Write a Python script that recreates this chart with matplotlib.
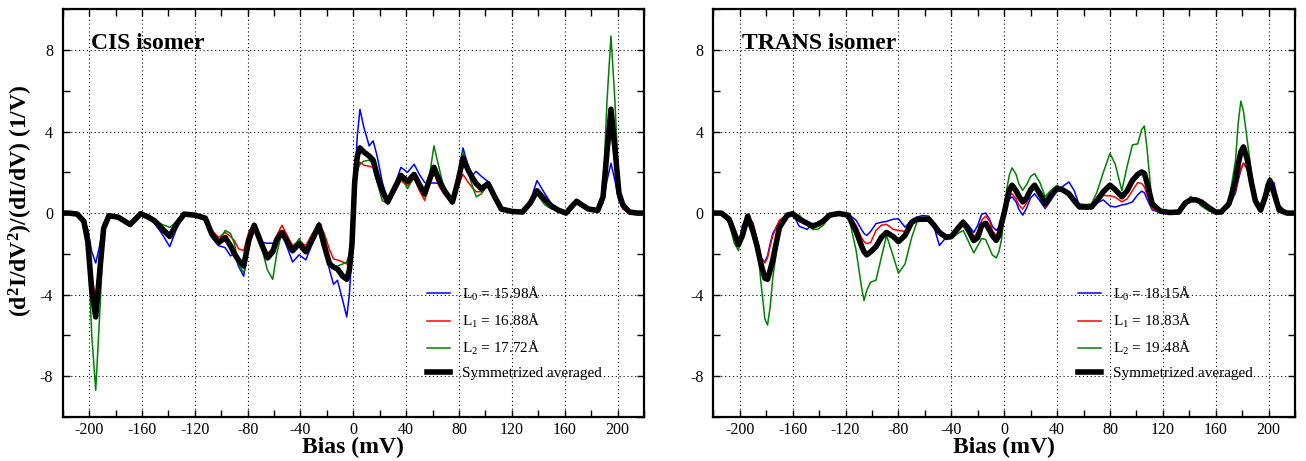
import matplotlib as mpl
mpl.use('Agg')
from matplotlib import pyplot as plt
from matplotlib.ticker import MultipleLocator

plt.rcParams['font.family'] = 'serif'
plt.rcParams['font.serif'] = ['Liberation Serif', 'DejaVu Serif']
plt.rcParams['mathtext.default'] = 'regular'
plt.rcParams['axes.unicode_minus'] = False

# dpi for figure
my_dpi = 100

# ---------------------------------------------------------------------------
# CIS isomer: bias (mV) and (d2I/dV2)/(dI/dV) (1/V)
# ---------------------------------------------------------------------------
cis_bias = [-220, -215, -209, -204, -201, -198, -195, -192, -189, -185,
            -178, -173, -169, -165, -161, -155, -150, -145, -139, -134,
            -128, -120, -112, -107, -102, -97, -93, -90, -87, -83,
            -79, -75, -69, -65, -61, -58, -54, -50, -46, -41,
            -36, -31, -26, -22, -18, -15, -12, -8, -5, -3, -1,
            0,
            1, 3, 5, 8, 12, 15, 18, 22, 26, 31,
            36, 41, 46, 50, 54, 58, 61, 65, 69, 75,
            79, 83, 87, 90, 93, 97, 102, 107, 112, 120,
            128, 134, 139, 145, 150, 155, 161, 165, 169, 173,
            178, 185, 189, 192, 195, 198, 201, 204, 209, 215, 220]

cis_L0 = [0, 0, -0.05, -0.3, -0.8, -1.9, -2.45, -1.6, -0.5, -0.13,
          -0.2, -0.4, -0.56, -0.3, -0.03, -0.25, -0.55, -1.0, -1.65, -0.8,
          -0.05, -0.1, -0.3, -1.2, -1.6, -1.7, -2.1, -2.0, -2.6, -3.1,
          -1.6, -0.7, -1.45, -1.48, -1.48, -1.45, -1.0, -1.7, -2.4, -2.05,
          -2.3, -1.5, -0.6, -1.5, -2.8, -3.5, -3.3, -4.3, -5.1, -4.0, -1.8,
          0,
          1.5, 3.8, 5.1, 4.2, 3.3, 3.55, 2.8, 1.5, 0.62, 1.3,
          2.25, 2.0, 2.4, 1.9, 1.5, 1.48, 1.48, 1.45, 1.1, 0.62,
          1.7, 3.2, 2.3, 1.85, 2.05, 1.8, 1.55, 0.8, 0.2, 0.08,
          0.05, 0.6, 1.6, 0.95, 0.45, 0.15, 0, 0.3, 0.58, 0.4,
          0.2, 0.13, 0.5, 1.6, 2.45, 1.6, 0.6, 0.35, 0.05, 0, 0]

cis_L1 = [0, 0, -0.05, -0.35, -1.0, -3.2, -4.1, -2.4, -0.6, -0.13,
          -0.2, -0.4, -0.56, -0.3, -0.03, -0.2, -0.35, -0.65, -1.0, -0.5,
          -0.05, -0.1, -0.25, -0.85, -1.2, -0.95, -1.15, -1.35, -1.75, -1.85,
          -0.9, -0.5, -1.4, -2.0, -1.7, -1.1, -0.6, -1.1, -1.6, -1.35,
          -1.6, -1.0, -0.5, -1.0, -1.8, -2.25, -2.3, -2.4, -2.5, -2.2, -1.3,
          0,
          1.3, 2.2, 2.5, 2.35, 2.3, 2.25, 1.6, 0.9, 0.43, 1.0,
          1.6, 1.35, 1.7, 1.1, 0.62, 1.5, 1.98, 1.3, 0.9, 0.43,
          1.3, 1.9, 1.5, 1.25, 1.05, 1.05, 1.35, 0.75, 0.2, 0.08,
          0.05, 0.45, 0.95, 0.55, 0.3, 0.15, 0, 0.3, 0.58, 0.4,
          0.2, 0.13, 0.8, 2.6, 4.0, 2.5, 0.7, 0.2, 0.0, 0, 0]

cis_L2 = [0, 0, -0.05, -0.5, -1.5, -6.0, -8.7, -5.0, -1.0, -0.13,
          -0.2, -0.4, -0.56, -0.3, -0.03, -0.2, -0.35, -0.55, -0.7, -0.45,
          -0.05, -0.1, -0.25, -0.95, -1.4, -0.85, -1.0, -1.5, -2.5, -2.95,
          -1.5, -0.55, -1.8, -2.8, -3.25, -2.0, -0.9, -1.2, -1.75, -1.25,
          -1.8, -1.1, -0.45, -1.1, -2.3, -2.6, -2.6, -2.5, -2.4, -2.0, -1.1,
          0,
          1.3, 2.1, 2.4, 2.55, 2.6, 2.4, 1.5, 0.6, 0.5, 1.1,
          1.78, 1.2, 1.78, 1.2, 0.8, 2.0, 3.3, 2.2, 1.1, 0.5,
          1.7, 3.0, 2.0, 1.35, 0.8, 0.95, 1.4, 0.75, 0.2, 0.08,
          0.05, 0.45, 0.9, 0.4, 0.2, 0.1, 0, 0.3, 0.58, 0.4,
          0.2, 0.13, 1.0, 5.5, 8.7, 5.5, 1.2, 0.5, 0.1, 0, 0]

cis_avg = [0, 0, -0.05, -0.4, -1.4, -3.8, -5.1, -2.9, -0.75, -0.13,
           -0.2, -0.4, -0.56, -0.3, -0.03, -0.2, -0.4, -0.75, -1.15, -0.55,
           -0.05, -0.1, -0.25, -1.05, -1.45, -1.2, -1.6, -2.0, -2.3, -2.6,
           -1.3, -0.6, -1.6, -2.2, -1.9, -1.3, -0.95, -1.4, -1.85, -1.5,
           -1.9, -1.3, -0.6, -1.6, -2.5, -2.65, -2.75, -3.1, -3.25, -2.8, -1.5,
           0,
           1.5, 2.8, 3.2, 3.0, 2.8, 2.6, 1.85, 1.1, 0.55, 1.2,
           1.85, 1.55, 1.9, 1.4, 0.95, 1.7, 2.25, 1.6, 1.1, 0.55,
           1.5, 2.7, 2.1, 1.75, 1.45, 1.2, 1.45, 0.8, 0.2, 0.08,
           0.05, 0.5, 1.1, 0.65, 0.35, 0.15, 0, 0.3, 0.58, 0.4,
           0.2, 0.13, 0.8, 3.0, 5.1, 3.2, 1.0, 0.4, 0.05, 0, 0]

# ---------------------------------------------------------------------------
# TRANS isomer
# ---------------------------------------------------------------------------
trans_bias = [-220, -214, -208, -204, -201, -198, -194, -190, -187, -184,
              -181, -179, -177, -175, -170, -164, -160, -155, -149, -145,
              -141, -137, -132, -125, -118, -112, -108, -106, -104, -101,
              -97, -93, -89, -84, -80, -75, -70, -66, -62, -57,
              -53, -49, -44, -40, -35, -31, -27, -23, -20, -17,
              -14, -11, -9, -6, -4, -2,
              0,
              2, 4, 6, 9, 11, 14, 17, 20, 23, 27,
              31, 35, 40, 44, 49, 53, 57, 62, 66, 70,
              75, 80, 84, 89, 93, 97, 101, 104, 106, 108,
              112, 118, 125, 132, 137, 141, 145, 149, 155, 160,
              164, 170, 175, 177, 179, 181, 184, 187, 190, 194,
              198, 201, 204, 208, 214, 220]

trans_L0 = [0, 0, -0.4, -1.3, -1.65, -0.6, -0.1, -0.5, -1.3, -2.2,
            -2.4, -2.1, -1.5, -1.0, -0.4, -0.05, -0.03, -0.65, -0.8, -0.5,
            -0.55, -0.35, -0.05, -0.02, -0.05, -0.35, -0.8, -1.0, -1.1, -0.9,
            -0.52, -0.45, -0.41, -0.3, -0.28, -0.69, -0.35, -0.2, -0.12, -0.15,
            -0.7, -1.59, -1.2, -1.1, -0.6, -0.35, -0.6, -0.95, -0.6, -0.05,
            0.0, -0.3, -0.65, -0.85, -0.7, -0.35,
            0,
            0.4, 0.7, 0.8, 0.55, 0.2, -0.1, 0.25, 0.75, 0.95, 0.6,
            0.22, 0.6, 1.1, 1.3, 1.53, 1.1, 0.35, 0.2, 0.25, 0.5,
            0.65, 0.35, 0.3, 0.4, 0.45, 0.55, 0.9, 1.08, 1.0, 0.7,
            0.15, 0.05, 0.03, 0.05, 0.4, 0.6, 0.7, 0.6, 0.2, 0.05,
            0.05, 0.3, 1.0, 1.6, 2.1, 2.45, 2.2, 1.3, 0.5, 0.05,
            0.6, 1.6, 1.5, 0.4, 0, 0]

trans_L1 = [0, 0, -0.35, -1.2, -1.55, -0.7, -0.1, -0.5, -1.3, -2.2,
            -2.45, -2.2, -1.6, -1.1, -0.35, -0.05, -0.03, -0.4, -0.6, -0.6,
            -0.55, -0.35, -0.05, -0.02, -0.05, -0.6, -1.2, -1.4, -1.5, -1.45,
            -0.85, -0.6, -0.55, -0.8, -0.85, -0.9, -0.35, -0.3, -0.25, -0.2,
            -0.6, -0.95, -1.2, -1.15, -0.7, -0.35, -0.75, -1.2, -0.9, -0.35,
            -0.15, -0.4, -0.85, -1.1, -0.9, -0.45,
            0,
            0.5, 0.85, 0.95, 0.7, 0.4, 0.2, 0.5, 1.0, 1.2, 0.8,
            0.3, 0.75, 1.15, 1.1, 0.95, 0.6, 0.25, 0.25, 0.3, 0.6,
            0.87, 0.85, 0.78, 0.55, 0.7, 1.1, 1.5, 1.45, 1.3, 0.9,
            0.2, 0.05, 0.03, 0.05, 0.45, 0.65, 0.65, 0.5, 0.2, 0.05,
            0.05, 0.35, 1.1, 1.7, 2.2, 2.45, 2.1, 1.2, 0.4, 0.05,
            0.7, 1.5, 1.2, 0.2, 0, 0]

trans_L2 = [0, 0, -0.5, -1.5, -1.84, -0.8, -0.11, -0.6, -1.3, -3.4,
            -5.2, -5.5, -4.6, -3.15, -0.9, -0.05, 0, -0.1, -0.5, -0.8,
            -0.8, -0.6, -0.2, -0.02, -0.05, -1.84, -3.6, -4.3, -3.8, -3.39,
            -3.3, -2.2, -1.1, -2.1, -2.95, -2.5, -1.2, -0.44, -0.38, -0.35,
            -0.65, -0.95, -1.3, -1.25, -1.0, -0.85, -1.4, -1.95, -1.6, -1.25,
            -1.3, -1.75, -2.05, -2.2, -1.9, -1.3,
            0,
            1.2, 1.9, 2.22, 1.9, 1.45, 1.12, 1.4, 1.8, 1.94, 1.5,
            0.8, 1.1, 1.37, 1.2, 0.8, 0.6, 0.45, 0.42, 0.45, 1.0,
            2.0, 2.93, 2.4, 1.1, 2.3, 3.35, 3.4, 4.1, 4.28, 3.2,
            0.4, 0.05, 0.03, 0.05, 0.5, 0.82, 0.65, 0.35, 0.1, 0.03,
            0.05, 0.6, 2.6, 4.4, 5.5, 5.0, 3.5, 2.0, 0.8, 0.1,
            1.4, 1.75, 0.9, 0.25, 0, 0]

trans_avg = [0, 0, -0.3, -1.0, -1.55, -1.1, -0.15, -0.9, -1.6, -2.5,
             -3.2, -3.25, -2.8, -2.3, -0.7, -0.1, -0.03, -0.3, -0.5, -0.65,
             -0.55, -0.4, -0.1, -0.02, -0.1, -0.9, -1.6, -1.9, -2.05, -1.9,
             -1.65, -1.2, -0.95, -1.15, -1.4, -1.1, -0.45, -0.3, -0.3, -0.3,
             -0.6, -0.95, -1.18, -1.15, -0.75, -0.45, -0.85, -1.35, -1.2, -0.6,
             -0.5, -0.85, -1.1, -1.34, -1.1, -0.5,
             0,
             0.6, 1.15, 1.37, 1.1, 0.85, 0.55, 0.75, 1.15, 1.37, 0.95,
             0.46, 0.85, 1.2, 1.15, 0.95, 0.6, 0.3, 0.3, 0.3, 0.6,
             1.05, 1.37, 1.15, 0.8, 1.1, 1.6, 1.9, 2.02, 1.95, 1.5,
             0.45, 0.1, 0.03, 0.05, 0.5, 0.65, 0.65, 0.55, 0.26, 0.05,
             0.05, 0.45, 1.6, 2.4, 3.0, 3.25, 2.6, 1.5, 0.6, 0.15,
             0.9, 1.6, 1.0, 0.15, 0, 0]

cis_labels = [r'L$_0$ = 15.98Å', r'L$_1$ = 16.88Å', r'L$_2$ = 17.72Å']
trans_labels = [r'L$_0$ = 18.15Å', r'L$_1$ = 18.83Å', r'L$_2$ = 19.48Å']
avg_label = 'Symmetrized averaged'

colo = ['blue', 'red', 'green']

fig = plt.figure(figsize=(1306/my_dpi, 461/my_dpi), dpi=my_dpi)
ax_cis = fig.add_axes([0.048, 0.0961, 0.4451, 0.8833])
ax_trans = fig.add_axes([0.5462, 0.0961, 0.4454, 0.8833])

panels = [(ax_cis, cis_bias, [cis_L0, cis_L1, cis_L2], cis_avg, cis_labels, 'CIS isomer'),
          (ax_trans, trans_bias, [trans_L0, trans_L1, trans_L2], trans_avg, trans_labels, 'TRANS isomer')]

for ax, bias, curves, avg, labels, title in panels:

  # individual electrode separations, then the averaged curve on top
  for i in range(3):
    ax.plot(bias, curves[i], color=colo[i], linewidth=1.1, label=labels[i])
  ax.plot(bias, avg, color='black', linewidth=4.0, label=avg_label)

  ax.set_xlim(-220, 220)
  ax.set_ylim(-10, 10)
  ax.xaxis.set_major_locator(MultipleLocator(40))
  ax.xaxis.set_minor_locator(MultipleLocator(20))
  ax.yaxis.set_major_locator(MultipleLocator(4))
  ax.yaxis.set_minor_locator(MultipleLocator(2))
  ax.tick_params(which='both', direction='in', top=True, right=True,
                 length=5, width=1.0, labelsize=11.5)
  ax.tick_params(axis='x', pad=4)
  ax.tick_params(axis='y', pad=7)
  ax.grid(True, which='major', color='black', linestyle=(0, (1, 2.5)), linewidth=0.8)
  for sp in ax.spines.values():
    sp.set_linewidth(1.6)

  ax.text(0.049, 0.903, title, transform=ax.transAxes, fontsize=17,
          fontweight='bold', va='baseline', ha='left')
  ax.set_xlabel('Bias (mV)', fontsize=17, fontweight='bold', labelpad=-1)

  leg = ax.legend(loc='center left', bbox_to_anchor=(0.627, 0.207), frameon=False,
                  fontsize=11, handlelength=1.5, handletextpad=0.8,
                  labelspacing=0.6, borderpad=0, borderaxespad=0)

ax_cis.set_ylabel(r'(d$^2$I/dV$^2$)/(dI/dV) (1/V)', fontsize=17, fontweight='bold')
ax_cis.yaxis.set_label_coords(-0.047, 0.53)

plt.savefig('out.png', dpi=my_dpi)
